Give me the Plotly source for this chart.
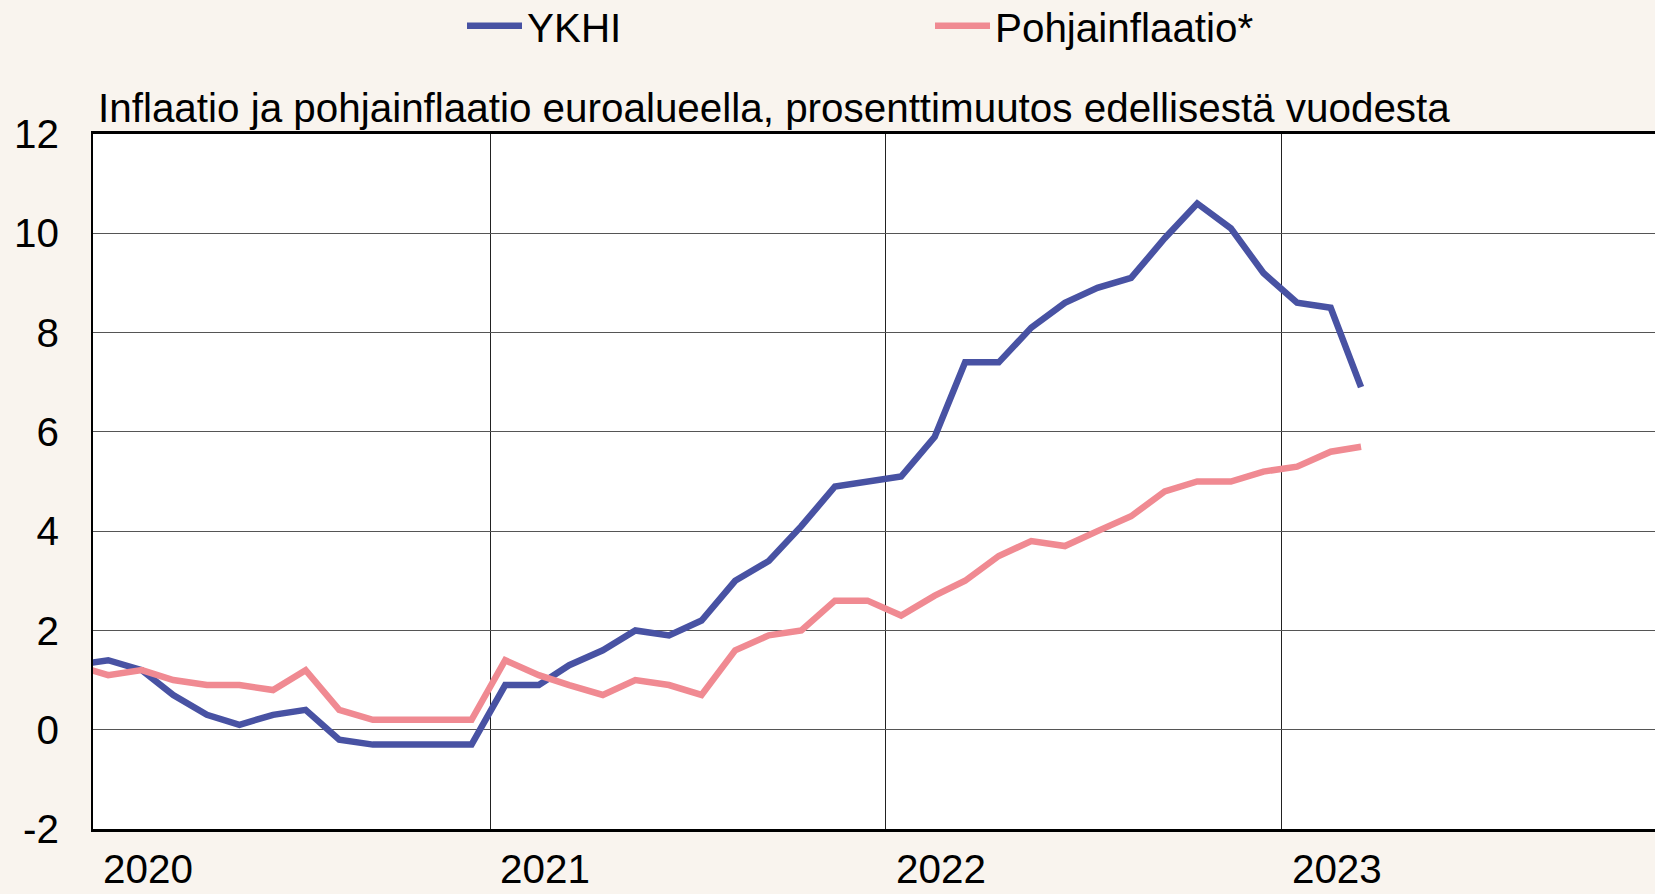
import plotly.graph_objects as go

months = [
    "2019-12-15",
    "2020-01-15", "2020-02-15", "2020-03-15", "2020-04-15", "2020-05-15", "2020-06-15",
    "2020-07-15", "2020-08-15", "2020-09-15", "2020-10-15", "2020-11-15", "2020-12-15",
    "2021-01-15", "2021-02-15", "2021-03-15", "2021-04-15", "2021-05-15", "2021-06-15",
    "2021-07-15", "2021-08-15", "2021-09-15", "2021-10-15", "2021-11-15", "2021-12-15",
    "2022-01-15", "2022-02-15", "2022-03-15", "2022-04-15", "2022-05-15", "2022-06-15",
    "2022-07-15", "2022-08-15", "2022-09-15", "2022-10-15", "2022-11-15", "2022-12-15",
    "2023-01-15", "2023-02-15", "2023-03-15",
]

ykhi = [
    1.3,
    1.4, 1.2, 0.7, 0.3, 0.1, 0.3, 0.4, -0.2, -0.3, -0.3, -0.3, -0.3,
    0.9, 0.9, 1.3, 1.6, 2.0, 1.9, 2.2, 3.0, 3.4, 4.1, 4.9, 5.0,
    5.1, 5.9, 7.4, 7.4, 8.1, 8.6, 8.9, 9.1, 9.9, 10.6, 10.1, 9.2,
    8.6, 8.5, 6.9,
]

pohja = [
    1.3,
    1.1, 1.2, 1.0, 0.9, 0.9, 0.8, 1.2, 0.4, 0.2, 0.2, 0.2, 0.2,
    1.4, 1.1, 0.9, 0.7, 1.0, 0.9, 0.7, 1.6, 1.9, 2.0, 2.6, 2.6,
    2.3, 2.7, 3.0, 3.5, 3.8, 3.7, 4.0, 4.3, 4.8, 5.0, 5.0, 5.2,
    5.3, 5.6, 5.7,
]

year_ticks = ["2020-01-01", "2021-01-01", "2022-01-01", "2023-01-01"]
year_labels = ["2020", "2021", "2022", "2023"]
y_ticks = [-2, 0, 2, 4, 6, 8, 10, 12]
y_labels = ["-2", "0", "2", "4", "6", "8", "10", "12"]

title_text = "Inflaatio ja pohjainflaatio euroalueella, prosenttimuutos edellisestä vuodesta"

BG = "#f9f4ee"
BLUE = "#4852a3"
PINK = "#f08a92"
FONT = "Liberation Sans, Arial, sans-serif"
FS = 40.4

fig = go.Figure()
fig.add_trace(go.Scatter(
    x=months, y=ykhi, mode="lines", name="YKHI",
    line=dict(color=BLUE, width=6.5),
))
fig.add_trace(go.Scatter(
    x=months, y=pohja, mode="lines", name="Pohjainflaatio*",
    line=dict(color=PINK, width=6.5),
))

fig.update_layout(
    width=1655, height=894,
    paper_bgcolor=BG, plot_bgcolor="white",
    margin=dict(l=93, r=0, t=134, b=65, autoexpand=False),
    font=dict(family=FONT, size=FS, color="black"),
    title=dict(
        text=title_text, x=98 / 1655, xanchor="left", xref="container",
        y=1 - 108 / 894, yanchor="middle", yref="container",
        font=dict(size=FS, family=FONT, color="black"),
    ),
    legend=dict(
        orientation="h", xref="container", x=462 / 1655, xanchor="left",
        yref="container", y=1 - 26 / 894, yanchor="middle",
        bgcolor="rgba(0,0,0,0)", borderwidth=0,
        font=dict(size=FS, family=FONT),
        itemwidth=55, entrywidth=398, entrywidthmode="pixels",
        tracegroupgap=0,
    ),
    showlegend=True,
)

fig.update_xaxes(
    type="date",
    range=["2020-01-01", "2023-12-11"],
    tickvals=year_ticks, ticktext=year_labels,
    ticks="", ticklabelshift=55, ticklabelstandoff=3,
    showgrid=True, gridcolor="#222222", gridwidth=1,
    showline=True, linecolor="black", linewidth=3, mirror=True,
    zeroline=False, automargin=False,
    tickfont=dict(size=FS, family=FONT),
)
fig.update_yaxes(
    range=[-2, 12], tickvals=y_ticks, ticktext=y_labels,
    ticks="", ticklabelstandoff=24,
    showgrid=True, gridcolor="#555555", gridwidth=1,
    showline=True, linecolor="black", linewidth=2, mirror=False,
    zeroline=False, automargin=False,
    tickfont=dict(size=FS, family=FONT),
)

fig.write_html(
    "out.html",
    config={"displayModeBar": False},
    post_script="document.body.style.margin='0';document.body.style.overflow='hidden';",
)
